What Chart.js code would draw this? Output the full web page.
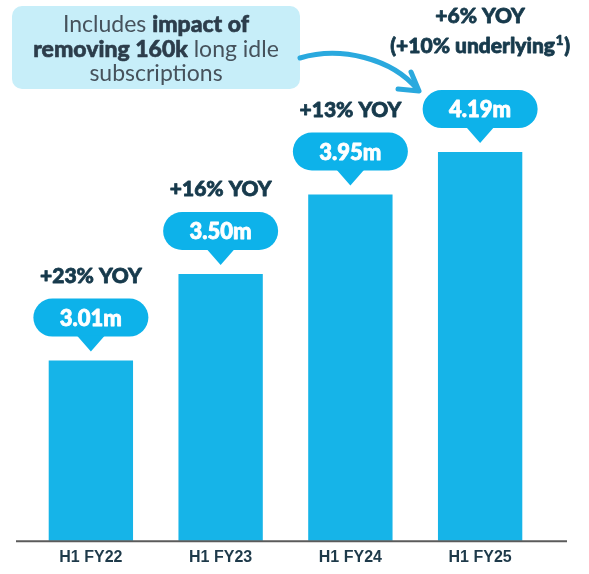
<!DOCTYPE html>
<html>
<head>
<meta charset="utf-8">
<script src="https://cdn.jsdelivr.net/npm/chart.js@4/dist/chart.umd.min.js"></script>
<style>
  html, body { margin: 0; padding: 0; background: #ffffff; }
  #wrap { width: 589px; height: 574px; }
</style>
</head>
<body>
<div id="wrap"><canvas id="c" width="589" height="574"></canvas></div>
<script>
// ---- data ----
const categories = ['H1 FY22', 'H1 FY23', 'H1 FY24', 'H1 FY25'];
const subscriptions = [3.01, 3.50, 3.95, 4.19];
const valueLabels = ['3.01m', '3.50m', '3.95m', '4.19m'];
const growthLabels = [
  ['+23% YOY'],
  ['+16% YOY'],
  ['+13% YOY'],
  ['+6% YOY', '(+10% underlying', '1', ')']
];
const calloutLines = [
  [['Includes ', false], ['impact of', true]],
  [['removing 160k', true], [' long idle', false]],
  [['subscriptions', false]]
];

const BAR = '#16b4e8';
const BUBBLE = '#0db2ea';
const NAVY = '#173a4c';
const FONT = 'Lato, "Source Sans Pro", "Open Sans", sans-serif';
const HEAVY = '900 ';

function roundRect(ctx, x, y, w, h, r) {
  ctx.beginPath();
  ctx.moveTo(x + r, y);
  ctx.lineTo(x + w - r, y);
  ctx.arcTo(x + w, y, x + w, y + r, r);
  ctx.lineTo(x + w, y + h - r);
  ctx.arcTo(x + w, y + h, x + w - r, y + h, r);
  ctx.lineTo(x + r, y + h);
  ctx.arcTo(x, y + h, x, y + h - r, r);
  ctx.lineTo(x, y + r);
  ctx.arcTo(x, y, x + r, y, r);
  ctx.closePath();
}

// heavier text: fill plus a thin stroke of the same colour
function heavyText(ctx, t, x, y, color, sw) {
  ctx.fillStyle = color;
  ctx.strokeStyle = color;
  ctx.lineWidth = sw;
  ctx.lineJoin = 'round';
  ctx.fillText(t, x, y);
  ctx.strokeText(t, x, y);
}

const decor = {
  id: 'decor',
  afterDatasetsDraw(chart) {
    const ctx = chart.ctx;
    const meta = chart.getDatasetMeta(0);
    const area = chart.chartArea;
    ctx.save();

    // baseline axis line
    ctx.strokeStyle = '#5b5b5b';
    ctx.lineWidth = 2;
    ctx.beginPath();
    ctx.moveTo(16, area.bottom + 0.5);
    ctx.lineTo(567, area.bottom + 0.5);
    ctx.stroke();

    meta.data.forEach((bar, i) => {
      const cx = bar.x;
      const top = bar.y;
      // bubble
      const bw = 115, bh = 38;
      const bBottom = top - 24;
      const bTop = bBottom - bh;
      ctx.fillStyle = BUBBLE;
      roundRect(ctx, cx - bw / 2, bTop, bw, bh, bh / 2);
      ctx.fill();
      ctx.beginPath();
      ctx.moveTo(cx - 14, bBottom - 1);
      ctx.lineTo(cx + 14, bBottom - 1);
      ctx.lineTo(cx, top - 9);
      ctx.closePath();
      ctx.fill();
      ctx.font = HEAVY + '22px ' + FONT;
      ctx.textAlign = 'center';
      ctx.textBaseline = 'middle';
      heavyText(ctx, valueLabels[i], cx, bTop + bh / 2 + 1, '#ffffff', 0.8);

      // growth labels
      const g = growthLabels[i];
      ctx.textBaseline = 'alphabetic';
      if (g.length === 1) {
        ctx.font = HEAVY + '21px ' + FONT;
        ctx.textAlign = 'center';
        heavyText(ctx, g[0], cx, top - 78, NAVY, 0.8);
      } else {
        ctx.font = HEAVY + '21px ' + FONT;
        ctx.textAlign = 'center';
        heavyText(ctx, g[0], cx, top - 129, NAVY, 0.8);
        const main = g[1], sup = g[2], close = g[3];
        const w1 = ctx.measureText(main).width;
        const w3 = ctx.measureText(close).width;
        ctx.font = HEAVY + '14px ' + FONT;
        const w2 = ctx.measureText(sup).width + 1;
        const total = w1 + w2 + w3;
        let x = cx - total / 2;
        const base = top - 99;
        ctx.textAlign = 'left';
        ctx.font = HEAVY + '21px ' + FONT;
        heavyText(ctx, main, x, base, NAVY, 0.8);
        x += w1;
        ctx.font = HEAVY + '14px ' + FONT;
        heavyText(ctx, sup, x + 0.5, base - 8, NAVY, 0.6);
        x += w2;
        ctx.font = HEAVY + '21px ' + FONT;
        heavyText(ctx, close, x, base, NAVY, 0.8);
      }
    });

    // callout box
    ctx.fillStyle = '#c7eef9';
    roundRect(ctx, 12, 6, 288, 83, 10);
    ctx.fill();
    ctx.textBaseline = 'alphabetic';
    ctx.textAlign = 'left';
    const baselines = [32, 57, 81];
    calloutLines.forEach((segs, li) => {
      let total = 0;
      segs.forEach(([t, b]) => {
        ctx.font = (b ? HEAVY : '') + '23px ' + FONT;
        total += ctx.measureText(t).width;
      });
      let x = 156 - total / 2;
      segs.forEach(([t, b]) => {
        ctx.font = (b ? HEAVY : '') + '23px ' + FONT;
        if (b) {
          heavyText(ctx, t, x, baselines[li], '#2c3d4b', 0.6);
        } else {
          ctx.fillStyle = '#46525c';
          ctx.fillText(t, x, baselines[li]);
        }
        x += ctx.measureText(t).width;
      });
    });

    // curved arrow
    ctx.strokeStyle = '#2aa9de';
    ctx.lineWidth = 5;
    ctx.lineCap = 'round';
    ctx.lineJoin = 'round';
    ctx.beginPath();
    ctx.moveTo(300, 58);
    ctx.bezierCurveTo(340, 46, 392, 58, 418, 90);
    ctx.stroke();
    ctx.beginPath();
    ctx.moveTo(411, 72);
    ctx.lineTo(419, 91);
    ctx.lineTo(398, 89);
    ctx.stroke();

    ctx.restore();
  }
};

new Chart(document.getElementById('c'), {
  type: 'bar',
  data: {
    labels: categories,
    datasets: [{
      data: subscriptions,
      backgroundColor: BAR,
      borderWidth: 0,
      barPercentage: 0.65,
      categoryPercentage: 1.0
    }]
  },
  options: {
    responsive: false,
    animation: false,
    events: [],
    layout: { padding: { top: 9, left: 26, right: 44, bottom: 0 } },
    plugins: { legend: { display: false }, tooltip: { enabled: false } },
    scales: {
      x: {
        grid: { display: false, drawTicks: false },
        border: { display: false },
        ticks: {
          color: '#1e3a4a',
          font: { family: '"Liberation Sans", Arial, sans-serif', size: 16, weight: 'bold' },
          padding: 7,
          maxRotation: 0,
          autoSkip: false
        }
      },
      y: {
        display: false,
        min: 1.99,
        max: 5.0
      }
    }
  },
  plugins: [decor]
});
</script>
</body>
</html>
